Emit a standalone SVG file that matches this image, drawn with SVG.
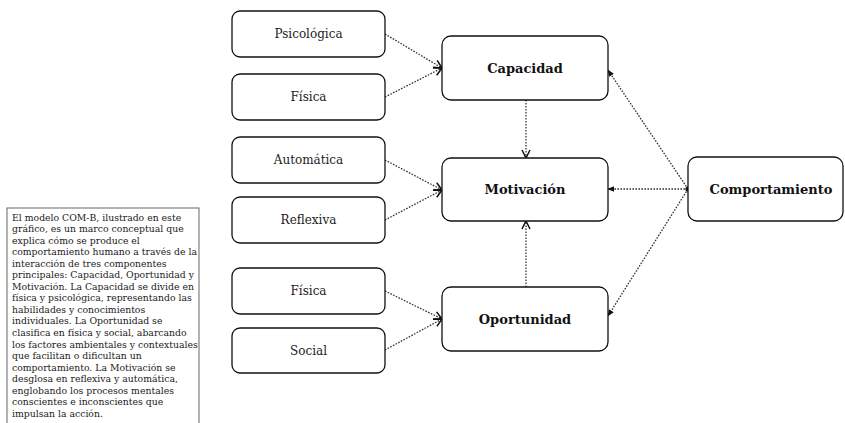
<svg xmlns="http://www.w3.org/2000/svg" width="845" height="423" viewBox="0 0 845 423">
<style>
.box{fill:#fff;stroke:#111;stroke-width:1.3}
.lbl{font-family:"DejaVu Serif",serif;font-size:12px;fill:#222;text-anchor:middle}
.main{font-family:"DejaVu Serif",serif;font-size:13px;font-weight:bold;fill:#111;text-anchor:middle}
.para{font-family:"DejaVu Serif",serif;font-size:9.3px;fill:#1a1a1a}
.con{fill:none;stroke:#333;stroke-width:1.3;stroke-dasharray:1.6 1.4}
</style>
<defs>
<marker id="open" viewBox="0 0 10 10" refX="9" refY="5" markerWidth="10" markerHeight="10" markerUnits="userSpaceOnUse" orient="auto">
<path d="M1,1 L9,5 L1,9" fill="none" stroke="#111" stroke-width="1.5"/>
</marker>
<marker id="fill" viewBox="0 0 10 10" refX="9" refY="5" markerWidth="7" markerHeight="7" markerUnits="userSpaceOnUse" orient="auto">
<path d="M0,1 L10,5 L0,9 Z" fill="#111"/>
</marker>
</defs>
<rect width="845" height="423" fill="#fff"/>

<g id="desc">
<rect x="7" y="208" width="192" height="220" fill="#fff" stroke="#666" stroke-width="1"/>
<text class="para" x="12" y="220.5">
<tspan x="12" dy="0">El modelo COM-B, ilustrado en este</tspan>
<tspan x="12" dy="11.55">gráfico, es un marco conceptual que</tspan>
<tspan x="12" dy="11.55">explica cómo se produce el</tspan>
<tspan x="12" dy="11.55">comportamiento humano a través de la</tspan>
<tspan x="12" dy="11.55">interacción de tres componentes</tspan>
<tspan x="12" dy="11.55">principales: Capacidad, Oportunidad y</tspan>
<tspan x="12" dy="11.55">Motivación. La Capacidad se divide en</tspan>
<tspan x="12" dy="11.55">física y psicológica, representando las</tspan>
<tspan x="12" dy="11.55">habilidades y conocimientos</tspan>
<tspan x="12" dy="11.55">individuales. La Oportunidad se</tspan>
<tspan x="12" dy="11.55">clasifica en física y social, abarcando</tspan>
<tspan x="12" dy="11.55">los factores ambientales y contextuales</tspan>
<tspan x="12" dy="11.55">que facilitan o dificultan un</tspan>
<tspan x="12" dy="11.55">comportamiento. La Motivación se</tspan>
<tspan x="12" dy="11.55">desglosa en reflexiva y automática,</tspan>
<tspan x="12" dy="11.55">englobando los procesos mentales</tspan>
<tspan x="12" dy="11.55">conscientes e inconscientes que</tspan>
<tspan x="12" dy="11.55">impulsan la acción.</tspan>
</text>
</g>

<g id="connectors">
<line class="con" x1="385" y1="34" x2="442" y2="68" marker-end="url(#open)"/>
<line class="con" x1="385" y1="97" x2="442" y2="68" marker-end="url(#open)"/>
<line class="con" x1="385" y1="160" x2="442" y2="190" marker-end="url(#open)"/>
<line class="con" x1="385" y1="220" x2="442" y2="190" marker-end="url(#open)"/>
<line class="con" x1="385" y1="291" x2="442" y2="319" marker-end="url(#open)"/>
<line class="con" x1="385" y1="350" x2="442" y2="319" marker-end="url(#open)"/>
<line class="con" x1="526" y1="100" x2="526" y2="158" marker-end="url(#open)"/>
<line class="con" x1="526" y1="287" x2="526" y2="221" marker-end="url(#open)"/>
<line class="con" x1="688" y1="189" x2="608" y2="70" marker-end="url(#fill)"/>
<line class="con" x1="688" y1="189" x2="608" y2="189" marker-end="url(#fill)"/>
<line class="con" x1="688" y1="189" x2="608" y2="316" marker-end="url(#fill)"/>
<circle cx="688" cy="189" r="2.6" fill="#111"/>
</g>

<g id="psicologica"><rect class="box" x="232" y="11" width="153" height="46" rx="8"/><text class="lbl" x="308.5" y="38">Psicológica</text></g>
<g id="fisica1"><rect class="box" x="232" y="74" width="153" height="46" rx="8"/><text class="lbl" x="308.5" y="101">Física</text></g>
<g id="automatica"><rect class="box" x="232" y="137" width="153" height="46" rx="8"/><text class="lbl" x="308.5" y="164">Automática</text></g>
<g id="reflexiva"><rect class="box" x="232" y="197" width="153" height="46" rx="8"/><text class="lbl" x="308.5" y="224">Reflexiva</text></g>
<g id="fisica2"><rect class="box" x="232" y="268" width="153" height="46" rx="8"/><text class="lbl" x="308.5" y="295">Física</text></g>
<g id="social"><rect class="box" x="232" y="328" width="153" height="45" rx="8"/><text class="lbl" x="308.5" y="355">Social</text></g>

<g id="capacidad"><rect class="box" x="442" y="36" width="166" height="64" rx="9"/><text class="main" x="525" y="73">Capacidad</text></g>
<g id="motivacion"><rect class="box" x="442" y="158" width="166" height="63" rx="9"/><text class="main" x="525" y="194">Motivación</text></g>
<g id="oportunidad"><rect class="box" x="442" y="287" width="166" height="64" rx="9"/><text class="main" x="525" y="324">Oportunidad</text></g>
<g id="comportamiento"><rect class="box" x="688" y="157" width="155" height="64" rx="9"/><text class="main" x="771" y="194">Comportamiento</text></g>
</svg>
